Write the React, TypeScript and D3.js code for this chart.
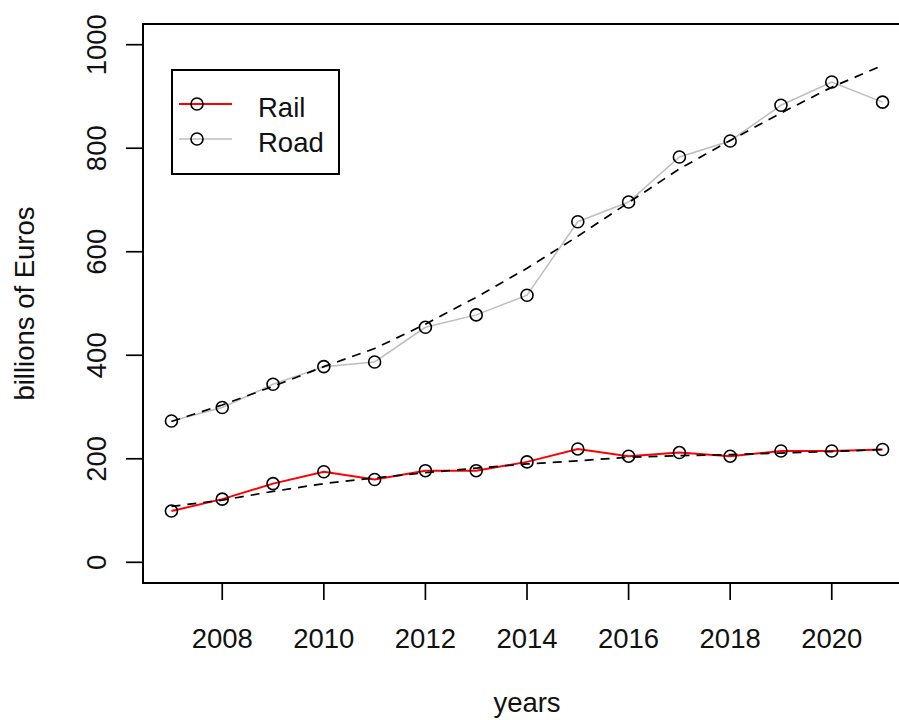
import React, { useEffect, useRef } from "react";
import * as d3 from "d3";

const years = [2007, 2008, 2009, 2010, 2011, 2012, 2013, 2014, 2015, 2016, 2017, 2018, 2019, 2020, 2021];
const rail = [99, 122, 152, 175, 160, 177, 177, 194, 219, 205, 212, 205, 215, 215, 218];
const road = [273, 299, 344, 378, 387, 454, 478, 516, 658, 696, 783, 814, 883, 928, 889];
const railTrend = [108, 120, 137, 152, 163, 173, 182, 190, 196, 203, 206, 208, 211, 214, 218];
const roadTrend = [272, 304, 340, 378, 413, 460, 512, 568, 630, 695, 760, 815, 868, 918, 960];
const xTicks = [2008, 2010, 2012, 2014, 2016, 2018, 2020];
const yTicks = [0, 200, 400, 600, 800, 1000];
const legendItems = [
  { name: "Rail", color: "#FF0000" },
  { name: "Road", color: "#BEBEBE" },
];

const FONT = "'Liberation Sans', Arial, sans-serif";
const FS = 27.5;

const App: React.FC = () => {
  const ref = useRef<SVGSVGElement>(null);

  useEffect(() => {
    if (!ref.current) return;
    const svg = d3.select(ref.current);
    svg.selectAll("*").remove();

    const width = 899;
    const height = 720;
    svg.attr("width", width).attr("height", height);

    // plot region (R style, 4% padding on x)
    const left = 143, right = 911, top = 24, bottom = 583;
    const pad = (2021 - 2007) * 0.04;
    const x = d3.scaleLinear().domain([2007 - pad, 2021 + pad]).range([left, right]);
    const y = d3.scaleLinear().domain([-40, 1040]).range([bottom, top]);

    svg.append("rect").attr("width", width).attr("height", height).attr("fill", "#fff");

    const line = (vals: number[]) =>
      d3.line<number>().x((_, i) => x(years[i])).y((d) => y(d))(vals);

    const drawSeries = (vals: number[], color: string, w: number) => {
      svg.append("path").attr("d", line(vals)).attr("fill", "none")
        .attr("stroke", color).attr("stroke-width", w);
      svg.append("g").selectAll("circle").data(vals).enter().append("circle")
        .attr("cx", (_, i) => x(years[i])).attr("cy", (d) => y(d)).attr("r", 6)
        .attr("fill", "none").attr("stroke", "#000").attr("stroke-width", 1.6);
    };

    drawSeries(road, "#BEBEBE", 1.5);
    drawSeries(rail, "#FF0000", 2);

    [roadTrend, railTrend].forEach((t) => {
      svg.append("path").attr("d", line(t)).attr("fill", "none")
        .attr("stroke", "#000").attr("stroke-width", 1.7).attr("stroke-dasharray", "9,7");
    });

    // box
    svg.append("rect").attr("x", left).attr("y", top).attr("width", right - left)
      .attr("height", bottom - top).attr("fill", "none").attr("stroke", "#000").attr("stroke-width", 2);

    // x axis
    const gx = svg.append("g");
    xTicks.forEach((t) => {
      gx.append("line").attr("x1", x(t)).attr("x2", x(t)).attr("y1", bottom).attr("y2", bottom + 17)
        .attr("stroke", "#000").attr("stroke-width", 1.7);
      gx.append("text").attr("x", x(t)).attr("y", bottom + 65).attr("text-anchor", "middle")
        .attr("font-family", FONT).attr("font-size", FS).attr("fill", "#111").text(t);
    });

    // y axis
    const gy = svg.append("g");
    yTicks.forEach((t) => {
      gy.append("line").attr("x1", left - 17).attr("x2", left).attr("y1", y(t)).attr("y2", y(t))
        .attr("stroke", "#000").attr("stroke-width", 1.7);
      gy.append("text").attr("transform", `translate(${left - 37},${y(t)}) rotate(-90)`)
        .attr("text-anchor", "middle").attr("font-family", FONT).attr("font-size", FS)
        .attr("fill", "#111").text(t);
    });

    svg.append("text").attr("x", (left + right) / 2).attr("y", 712).attr("text-anchor", "middle")
      .attr("font-family", FONT).attr("font-size", FS).attr("fill", "#111").text("years");
    svg.append("text").attr("transform", `translate(34,${(top + bottom) / 2}) rotate(-90)`)
      .attr("text-anchor", "middle").attr("font-family", FONT).attr("font-size", FS)
      .attr("fill", "#111").text("billions of Euros");

    // legend
    const lg = svg.append("g").attr("transform", "translate(172,70)");
    lg.append("rect").attr("width", 167).attr("height", 104).attr("fill", "#fff")
      .attr("stroke", "#000").attr("stroke-width", 2);
    legendItems.forEach((d, i) => {
      const cy = 34 + i * 35;
      lg.append("line").attr("x1", 7).attr("x2", 60).attr("y1", cy).attr("y2", cy)
        .attr("stroke", d.color).attr("stroke-width", i === 0 ? 2 : 1.5);
      lg.append("circle").attr("cx", 25).attr("cy", cy).attr("r", 6).attr("fill", "none")
        .attr("stroke", "#000").attr("stroke-width", 1.6);
      lg.append("text").attr("x", 86).attr("y", cy + 13).attr("font-family", FONT)
        .attr("font-size", FS).attr("fill", "#111").text(d.name);
    });
  }, []);

  return <svg ref={ref} style={{ position: "absolute", left: 0, top: 0 }}></svg>;
};

export default App;
